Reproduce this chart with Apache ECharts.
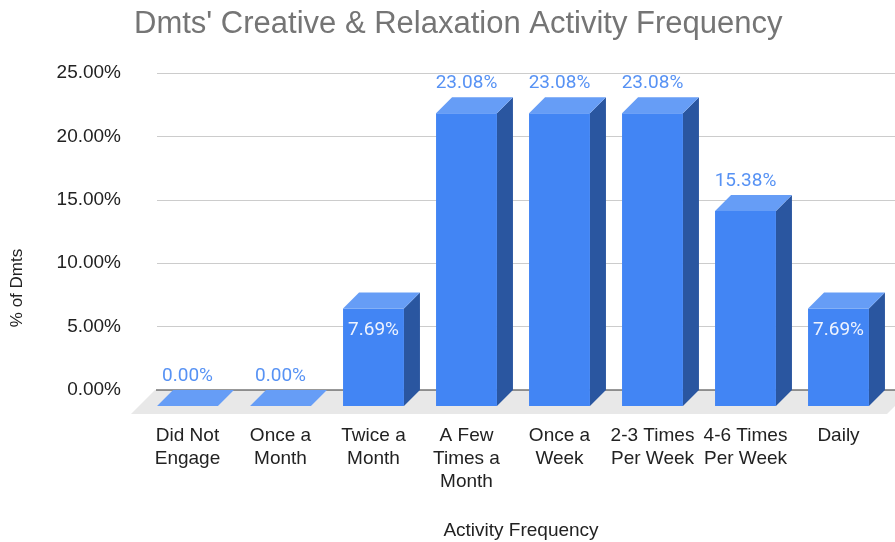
<!DOCTYPE html>
<html>
<head>
<meta charset="utf-8">
<title>Dmts' Creative & Relaxation Activity Frequency</title>
<script src="https://cdn.jsdelivr.net/npm/echarts@6/dist/echarts.min.js"></script>
<style>
  html, body { margin: 0; padding: 0; background: #ffffff; }
  #chart { width: 895px; height: 542px; }
</style>
</head>
<body>
<div id="chart"></div>
<script>
// Activity frequency buckets (x axis) and share of Dmts in each (percent)
const categories = [
  'Did Not\nEngage',
  'Once a\nMonth',
  'Twice a\nMonth',
  'A Few\nTimes a\nMonth',
  'Once a\nWeek',
  '2-3 Times\nPer Week',
  '4-6 Times\nPer Week',
  'Daily'
];
const shares = [0.00, 0.00, 7.69, 23.08, 23.08, 23.08, 15.38, 7.69];

// Value axis ticks (percent)
const yMin = 0;
const yMax = 25;
const yStep = 5;

const chartTitle = "Dmts' Creative & Relaxation Activity Frequency";
const xTitle = 'Activity Frequency';
const yTitle = '% of Dmts';

// Drawing style
const SANS = '"Liberation Sans", Arial, sans-serif';
const FRONT = '#4285f4';
const TOP = '#669df6';
const SIDE = '#2a56a0';
const FLOOR = '#e8e8e8';
const DEPTH = 16;          // extrusion of the 3D bars
const FLOOR_DEPTH = 24;    // depth of the grey floor slab
const BAR_RATIO = 0.655;   // bar width as share of the category band

const pct = v => v.toFixed(2) + '%';

const chart = echarts.init(document.getElementById('chart'), null, { renderer: 'canvas' });

// Grey floor and dark baseline, drawn from the back plane's coordinate system
function renderFloor(params, api) {
  const cs = params.coordSys;
  const base = api.coord([0, 0])[1];
  const left = cs.x - 2;
  const right = cs.x + cs.width + DEPTH;
  return {
    type: 'group',
    children: [
      {
        type: 'polygon',
        shape: { points: [[left, base], [right, base], [right - FLOOR_DEPTH, base + FLOOR_DEPTH], [left - FLOOR_DEPTH, base + FLOOR_DEPTH]] },
        style: { fill: FLOOR }
      },
      {
        type: 'line',
        shape: { x1: left + 1, y1: base, x2: cs.x + cs.width, y2: base },
        style: { stroke: '#333333', lineWidth: 1.2 }
      }
    ]
  };
}

// Extruded bar: front face, right side and top, plus its value label
function renderBar(params, api) {
  const idx = api.value(0);
  const v = api.value(1);
  const top = api.coord([idx, v]);
  const base = api.coord([idx, 0]);
  const w = api.size([1, 0])[0] * BAR_RATIO;
  const d = DEPTH;
  const x0 = top[0] - w / 2;
  const x1 = top[0] + w / 2;
  const yt = top[1];
  const yb = base[1];
  const children = [
    {
      type: 'polygon',
      shape: { points: [[x1, yt + d], [x1 + d, yt], [x1 + d, yb], [x1, yb + d]] },
      style: { fill: SIDE }
    },
    {
      type: 'rect',
      shape: { x: x0, y: yt + d, width: w, height: yb - yt },
      style: { fill: FRONT }
    },
    {
      type: 'polygon',
      shape: { points: [[x0, yt + d], [x1, yt + d], [x1 + d, yt], [x0 + d, yt]] },
      style: { fill: TOP }
    }
  ];
  // short non-zero bars carry their label inside the front face
  const inside = v > 0 && v < 10;
  children.push({
    type: 'text',
    style: {
      text: pct(v),
      x: top[0],
      y: inside ? yt + d + 22 : yt - 14,
      align: 'center',
      verticalAlign: 'middle',
      fill: inside ? '#eef3fe' : '#5792f4',
      font: '19px Roboto, sans-serif'
    }
  });
  return { type: 'group', children };
}

const gridTop = 73;
const gridBottom = 152;

chart.setOption({
  animation: false,
  backgroundColor: '#ffffff',
  title: {
    text: chartTitle,
    left: 129,
    top: 4,
    textStyle: { fontFamily: SANS, fontSize: 31, fontWeight: 'normal', color: '#757575' }
  },
  grid: [
    // back plane: value axis, gridlines
    { left: 157, right: 0, top: gridTop, bottom: gridBottom },
    // front plane: categories and bars
    { left: 141, right: 10, top: gridTop, bottom: gridBottom }
  ],
  xAxis: [
    {
      gridIndex: 0, type: 'category', data: categories,
      axisLine: { show: false }, axisTick: { show: false }, axisLabel: { show: false }, splitLine: { show: false }
    },
    {
      gridIndex: 1, type: 'category', data: categories,
      axisLine: { show: false }, axisTick: { show: false }, splitLine: { show: false },
      axisLabel: {
        interval: 0, margin: 34, lineHeight: 23,
        fontFamily: SANS, fontSize: 19, color: '#222222', align: 'center'
      }
    }
  ],
  yAxis: [
    {
      gridIndex: 0, type: 'value', min: yMin, max: yMax, interval: yStep,
      axisLine: { show: false }, axisTick: { show: false },
      splitLine: { lineStyle: { color: '#cccccc', width: 1 } },
      axisLabel: { formatter: v => pct(v), margin: 36, fontFamily: SANS, fontSize: 19, color: '#222222' }
    },
    {
      gridIndex: 1, type: 'value', min: yMin, max: yMax, interval: yStep, show: false
    }
  ],
  graphic: [
    {
      type: 'text', x: 17, y: 288, rotation: Math.PI / 2,
      style: { text: yTitle, align: 'center', verticalAlign: 'middle', font: '17px ' + SANS, fill: '#222222' }
    },
    {
      type: 'text', x: 521, y: 531,
      style: { text: xTitle, align: 'center', verticalAlign: 'middle', font: '19px ' + SANS, fill: '#222222' }
    }
  ],
  series: [
    {
      type: 'custom', name: 'floor', xAxisIndex: 0, yAxisIndex: 0, z: 1,
      silent: true, clip: false,
      data: [[0, 0]],
      renderItem: renderFloor
    },
    {
      type: 'custom', name: '% of Dmts', xAxisIndex: 1, yAxisIndex: 1, z: 3,
      clip: false,
      data: shares.map((v, i) => [i, v]),
      renderItem: renderBar
    }
  ]
});
</script>
</body>
</html>
